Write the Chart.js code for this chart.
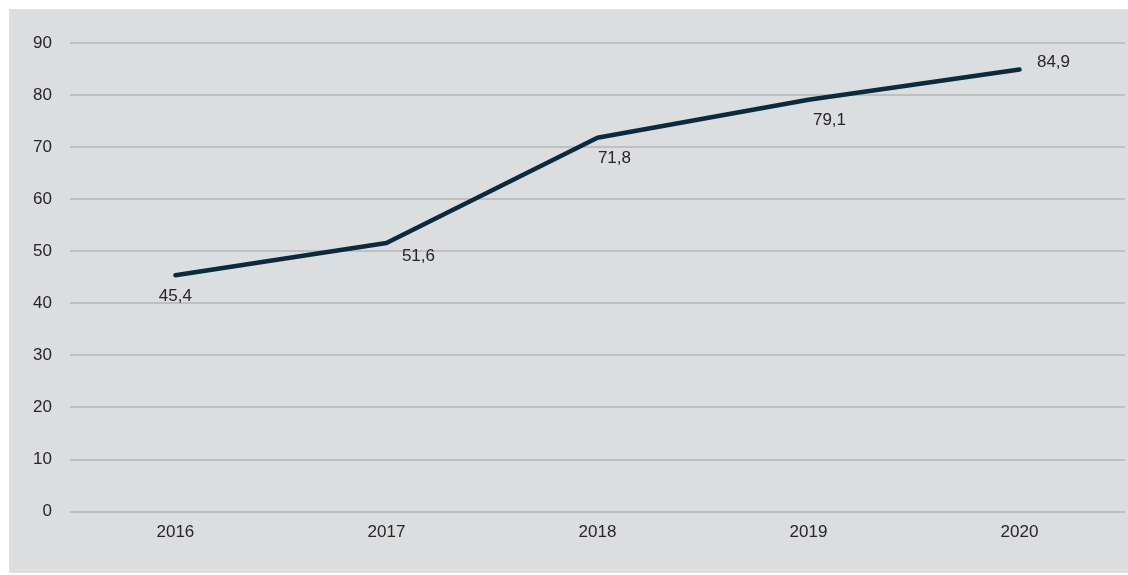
<!DOCTYPE html>
<html>
<head>
<meta charset="utf-8">
<script src="https://cdn.jsdelivr.net/npm/chart.js@4"></script>
<style>
  html, body { margin: 0; padding: 0; background: #fff; }
  #wrap { position: relative; width: 1128px; height: 575px; }
</style>
</head>
<body>
<div id="wrap"><canvas id="chart" width="1128" height="575"></canvas></div>
<script>
// Dados do gráfico
const years = ["2016", "2017", "2018", "2019", "2020"];
const values = [45.4, 51.6, 71.8, 79.1, 84.9];
const yTicks = [0, 10, 20, 30, 40, 50, 60, 70, 80, 90];

// deslocamento dos rótulos em relação ao ponto (estilo)
const labelShift = [[0, 21], [32, 13], [17, 21], [21, 21], [34, -7]];
const fontFam = '"Liberation Sans", Arial, sans-serif';

const panelBg = {
  id: 'panelBg',
  beforeDraw(chart) {
    const c = chart.ctx;
    c.save();
    c.fillStyle = '#dcdddf';
    c.fillRect(9, 9, 1119, 564);
    c.restore();
  }
};

const pointLabels = {
  id: 'pointLabels',
  afterDatasetsDraw(chart) {
    const c = chart.ctx;
    const meta = chart.getDatasetMeta(0);
    c.save();
    c.font = '17px ' + fontFam;
    c.fillStyle = '#262626';
    c.textAlign = 'center';
    c.textBaseline = 'middle';
    meta.data.forEach((pt, i) => {
      const txt = values[i].toFixed(1).replace('.', ',');
      c.fillText(txt, pt.x + labelShift[i][0], pt.y + labelShift[i][1]);
    });
    c.restore();
  }
};

new Chart(document.getElementById('chart'), {
  type: 'line',
  data: {
    labels: years,
    datasets: [{
      data: values,
      borderColor: '#0b2a3d',
      borderWidth: 4.5,
      borderCapStyle: 'round',
      borderJoinStyle: 'round',
      pointRadius: 0,
      tension: 0,
      fill: false
    }]
  },
  options: {
    responsive: false,
    animation: false,
    layout: { padding: { left: 15, right: 3, top: 43, bottom: 21 } },
    plugins: {
      legend: { display: false },
      tooltip: { enabled: false }
    },
    scales: {
      x: {
        offset: true,
        grid: { display: false, drawTicks: false },
        border: { display: false },
        ticks: {
          color: '#262626',
          padding: 11,
          maxRotation: 0,
          font: { family: fontFam, size: 17 }
        }
      },
      y: {
        min: 0,
        max: 90,
        afterBuildTicks(axis) { axis.ticks = yTicks.map(v => ({ value: v })); },
        grid: { color: '#bfbfc1', lineWidth: 2, drawTicks: false },
        border: { display: false },
        ticks: {
          color: '#262626',
          padding: 18,
          font: { family: fontFam, size: 17 }
        }
      }
    }
  },
  plugins: [panelBg, pointLabels]
});
</script>
</body>
</html>
